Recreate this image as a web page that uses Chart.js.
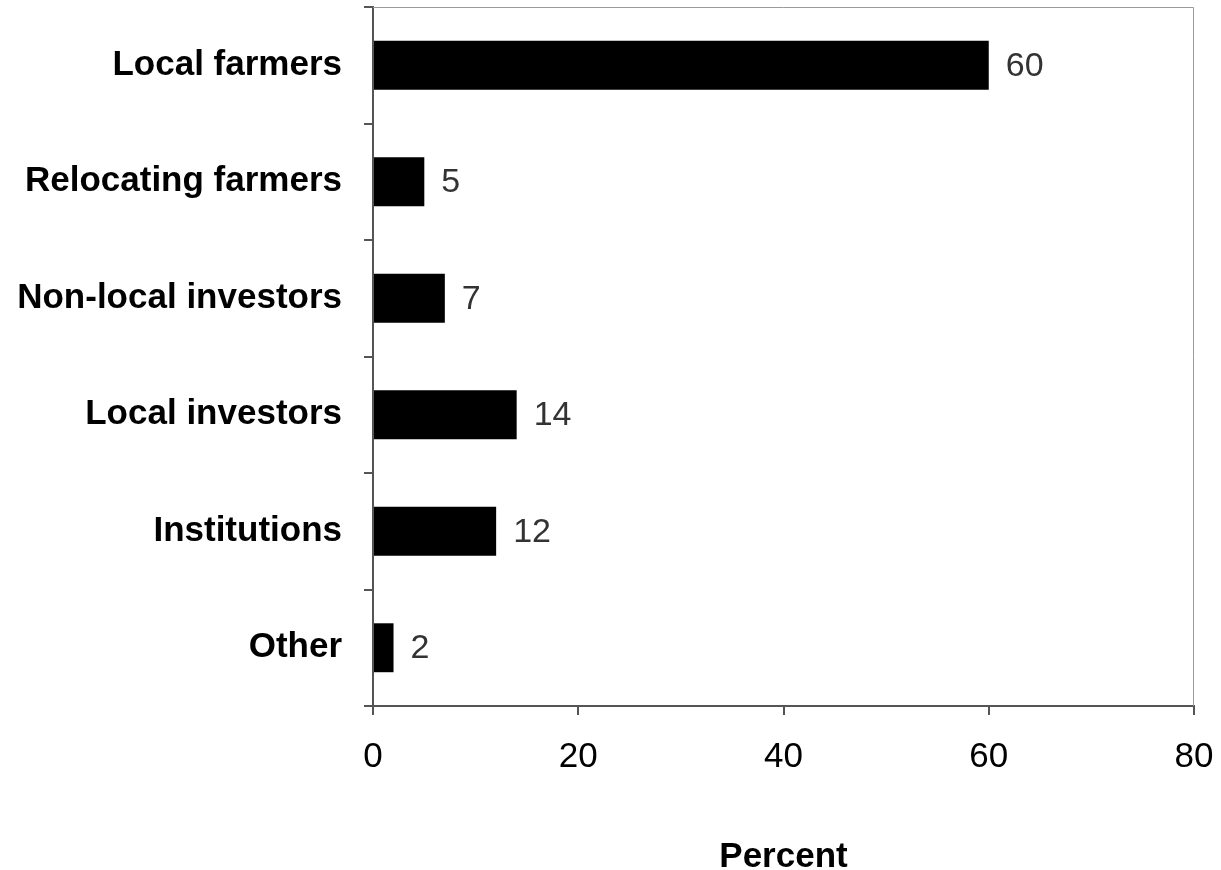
<!DOCTYPE html>
<html>
<head>
<meta charset="utf-8">
<script src="https://cdn.jsdelivr.net/npm/chart.js@4.4.1/dist/chart.umd.min.js"></script>
<style>
  body { margin: 0; background: #fff; }
  canvas { display: block; }
</style>
</head>
<body>
<canvas id="buyerChart" width="1221" height="870"></canvas>
<script>
// ====================== DATA ======================
const categories = ["Local farmers", "Relocating farmers", "Non-local investors", "Local investors", "Institutions", "Other"];
const percentValues = [60, 5, 7, 14, 12, 2];
const xTicks = [0, 20, 40, 60, 80];

const FONT = "'Liberation Sans', Arial, Helvetica, sans-serif";

// --- light frame on top and right of the plot ---
const framePlugin = {
  id: "frame",
  beforeDatasetsDraw(chart) {
    const { ctx, chartArea: a } = chart;
    ctx.save();
    ctx.strokeStyle = "#9a9a9a";
    ctx.lineWidth = 1;
    ctx.beginPath();
    ctx.moveTo(a.left, a.top + 0.5);
    ctx.lineTo(a.right - 0.5, a.top + 0.5);
    ctx.lineTo(a.right - 0.5, a.bottom);
    ctx.stroke();
    ctx.restore();
  }
};

// --- value labels right of each bar ---
const valueLabels = {
  id: "valueLabels",
  afterDatasetsDraw(chart) {
    const { ctx } = chart;
    const meta = chart.getDatasetMeta(0);
    ctx.save();
    ctx.font = "34px " + FONT;
    ctx.fillStyle = "#333";
    ctx.textAlign = "left";
    ctx.textBaseline = "middle";
    meta.data.forEach((bar, i) => {
      ctx.fillText(String(percentValues[i]), bar.x + 17, bar.y + 1);
    });
    ctx.restore();
  }
};

// fixed axis sizes, no extra label overflow padding
function fitX(scale) {
  scale.height = 164;
  scale.paddingLeft = 0;
  scale.paddingRight = 0;
}
function fitY(scale) {
  scale.width = 373;
  scale.paddingTop = 0;
  scale.paddingBottom = 0;
}

const buyerChart = new Chart(document.getElementById("buyerChart"), {
  type: "bar",
  data: {
    labels: categories,
    datasets: [{
      data: percentValues,
      backgroundColor: "#000",
      borderWidth: 0,
      barPercentage: 0.84,
      categoryPercentage: 0.5
    }]
  },
  options: {
    indexAxis: "y",
    responsive: false,
    animation: false,
    layout: { padding: { top: 7, right: 27, left: 0, bottom: 0 } },
    plugins: {
      legend: { display: false },
      tooltip: { enabled: false }
    },
    scales: {
      x: {
        min: 0,
        max: 80,
        afterBuildTicks: (scale) => { scale.ticks = xTicks.map(v => ({ value: v })); },
        afterFit: fitX,
        grid: { drawOnChartArea: false, tickLength: 9, color: "#555", lineWidth: 2 },
        border: { color: "#555", width: 2 },
        ticks: { color: "#000", font: { family: FONT, size: 35 }, padding: 21, maxRotation: 0 },
        title: {
          display: true,
          text: "Percent",
          color: "#000",
          font: { family: FONT, size: 35, weight: "bold", lineHeight: 1 },
          padding: { top: 0, bottom: -5 }
        }
      },
      y: {
        afterFit: fitY,
        grid: { drawOnChartArea: false, offset: true, tickLength: 9, color: "#555", lineWidth: 2 },
        border: { color: "#555", width: 2 },
        ticks: { color: "#000", font: { family: FONT, size: 35, weight: "bold" }, padding: 22 }
      }
    }
  },
  plugins: [framePlugin, valueLabels]
});
</script>
</body>
</html>
